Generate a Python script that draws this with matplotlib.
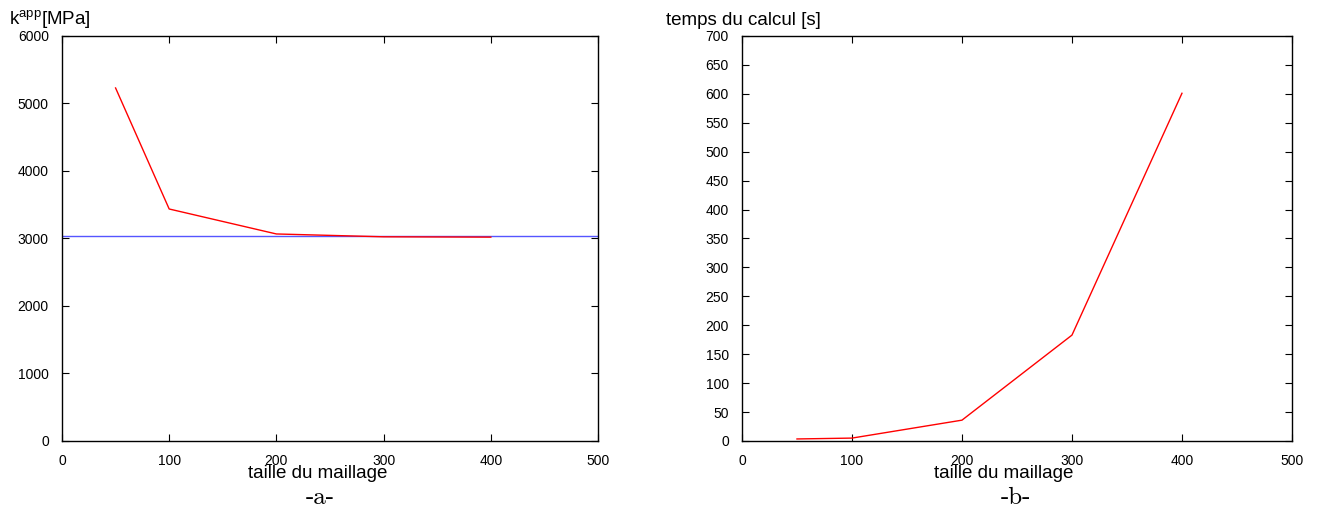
import matplotlib
matplotlib.use("Agg")
import matplotlib.pyplot as plt

plt.rcParams['font.family'] = ['Liberation Sans', 'DejaVu Sans']

# donnees
taille = [50, 100, 200, 300, 400]
k_app = [5230, 3437, 3067, 3025, 3020]
k_ref = 3040
temps = [3.5, 5, 36, 183, 601]


def style_axes(ax, ymax, ystep):
    ax.set_xlim(0, 500)
    ax.set_ylim(0, ymax)
    ax.set_xticks(range(0, 501, 100))
    ax.set_yticks(range(0, ymax + 1, ystep))
    ax.tick_params(direction='in', length=5, width=0.8, top=True, right=True,
                   labelsize=10, pad=9.5, colors='black')
    ax.tick_params(axis='y', pad=9.5)
    for s in ax.spines.values():
        s.set_linewidth(1.0)


fig = plt.figure(figsize=(13.24, 5.12), dpi=100)

# -a- : k apparent
ax_k = fig.add_axes([0.0468, 0.1387, 0.4049, 0.791])
ax_k.axhline(k_ref, color='#5555ff', lw=1.0)
ax_k.plot(taille, k_app, color='red', lw=1.0)
style_axes(ax_k, 6000, 1000)
fig.text(0.007, 0.952, r'k$^{\mathregular{app}}$[MPa]', fontsize=13.5)
fig.text(0.240, 0.066, 'taille du maillage', fontsize=13.5, ha='center')
fig.text(0.242, 0.016, '-a-', fontsize=18, ha='center', family=['cmr10', 'DejaVu Serif'])

# -b- : temps du calcul
ax_t = fig.add_axes([0.5604, 0.1387, 0.4154, 0.791])
ax_t.plot(taille, temps, color='red', lw=1.0)
style_axes(ax_t, 700, 50)
fig.text(0.503, 0.952, 'temps du calcul [s]', fontsize=13.5)
fig.text(0.758, 0.066, 'taille du maillage', fontsize=13.5, ha='center')
fig.text(0.767, 0.016, '-b-', fontsize=18, ha='center', family=['cmr10', 'DejaVu Serif'])

fig.savefig('out.png', dpi=100)
